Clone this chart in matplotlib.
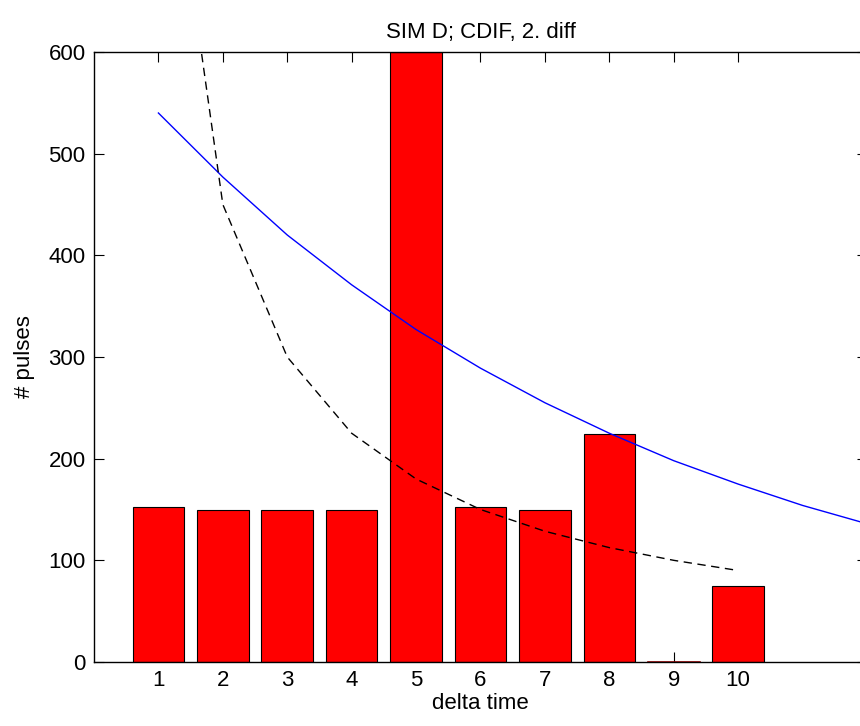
import matplotlib.pyplot as plt

plt.rcParams['font.family'] = ['Liberation Sans', 'DejaVu Sans']

# bar data
delta = [1, 2, 3, 4, 5, 6, 7, 8, 9, 10]
pulses = [152, 150, 150, 150, 600, 152, 150, 224, 0, 75]

# blue fitted curve
fit_x = [1, 2, 3, 4, 5, 6, 7, 8, 9, 10, 11, 12]
fit_y = [540, 477, 420, 371, 327, 289, 255, 225, 198, 175, 154, 136]

# dashed reference curve
ref_x = [1, 2, 3, 4, 5, 6, 7, 8, 9, 10]
ref_y = [900, 450, 300, 225, 180, 150, 128.6, 112.5, 100, 90]

fig = plt.figure(figsize=(8.6, 7.26), dpi=100)
ax = fig.add_axes([94/860, 64/726, 773/860, 610/726])

ax.bar(delta, pulses, width=0.8, color='red', edgecolor='black', linewidth=0.8, zorder=2)
# zero-height bar at 9 shows as a dark red line
ax.plot([9 - 0.4, 9 + 0.4], [0, 0], color='#7a0000', linewidth=1.2, zorder=4)
ax.plot(fit_x, fit_y, color='blue', linewidth=1, zorder=3)
ax.plot(ref_x, ref_y, color='black', linestyle='--', linewidth=1, dashes=(6, 4), zorder=3)

ax.set_xlim(0, 12)
ax.set_ylim(0, 600)
ax.set_xticks(delta)
ax.set_yticks(range(0, 601, 100))
ax.tick_params(direction='in', length=7, top=True, right=True, labelsize=16, pad=6)
for s in ax.spines.values():
    s.set_linewidth(1)

ax.set_title('SIM D; CDIF, 2. diff', fontsize=16, pad=10)
ax.set_xlabel('delta time', fontsize=16, labelpad=1)
ax.set_ylabel('# pulses', fontsize=16, labelpad=10)

fig.savefig('out.png', dpi=100)
